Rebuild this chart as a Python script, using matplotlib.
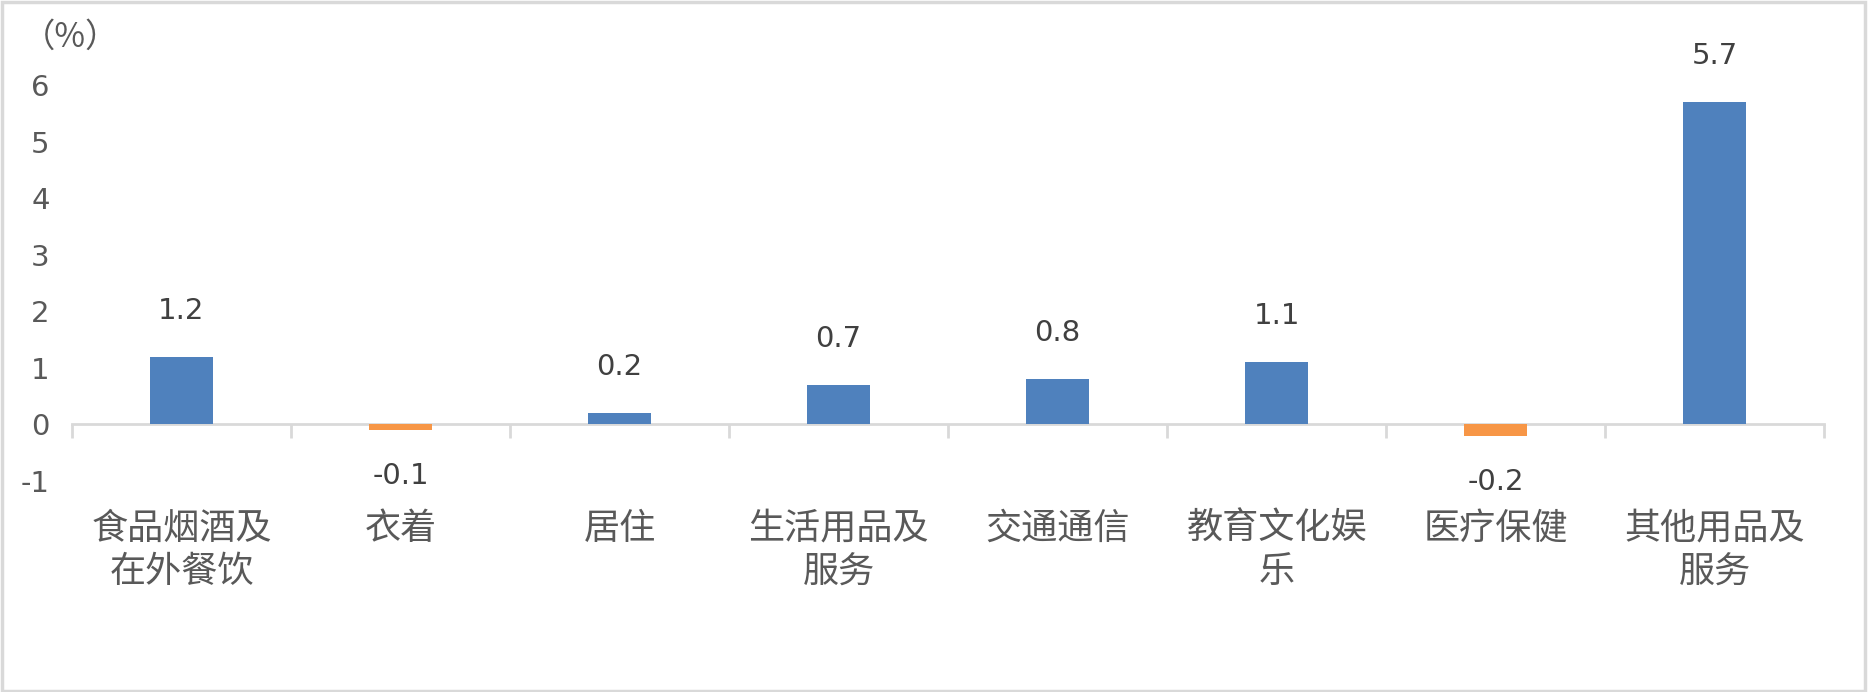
import matplotlib
matplotlib.use("Agg")
import matplotlib.pyplot as plt
import numpy as np
from matplotlib.patches import Rectangle

plt.rcParams["font.family"] = ["DejaVu Sans", "Noto Sans CJK SC"]

categories = [
    "食品烟酒及\n在外餐饮",
    "衣着",
    "居住",
    "生活用品及\n服务",
    "交通通信",
    "教育文化娱\n乐",
    "医疗保健",
    "其他用品及\n服务",
]
values = [1.2, -0.1, 0.2, 0.7, 0.8, 1.1, -0.2, 5.7]
y_ticks = [-1, 0, 1, 2, 3, 4, 5, 6]

blue = "#4F81BD"
orange = "#F79646"
grid_gray = "#D9D9D9"

fig = plt.figure(figsize=(18.69, 6.92), dpi=100)
ax = fig.add_axes([0.0385, 0.305, 0.9375, 0.572])

x = np.arange(len(values))
colors = [blue if v >= 0 else orange for v in values]
ax.bar(x, values, width=0.29, color=colors, zorder=3)

ax.set_xlim(-0.5, len(values) - 0.5)
ax.set_ylim(-1, 6)
ax.set_yticks(y_ticks)
ax.set_yticklabels([str(t) for t in y_ticks])
ax.tick_params(axis="y", length=0, pad=16, labelsize=21, labelcolor="#595959")

for s in ["left", "right", "top"]:
    ax.spines[s].set_visible(False)
ax.spines["bottom"].set_position(("data", 0))
ax.spines["bottom"].set_color(grid_gray)
ax.spines["bottom"].set_linewidth(2)
ax.spines["bottom"].set_zorder(2)

# boundary ticks below the zero line
ax.set_xticks(np.arange(len(values) + 1) - 0.5)
ax.set_xticklabels([])
ax.tick_params(axis="x", which="major", direction="out", length=10,
               width=2, color=grid_gray)
ax.set_xticks(x, minor=True)
ax.set_xticklabels(categories, minor=True, family="Noto Sans CJK SC",
                   fontsize=26, color="#595959", linespacing=1.28)
ax.tick_params(axis="x", which="minor", length=0, pad=62)

for xi, v in zip(x, values):
    off = 33 if v >= 0 else -33
    ax.annotate(f"{v:.1f}", (xi, v), xytext=(0, off), textcoords="offset points",
                ha="center", va="center", fontsize=21, color="#404040")

fig.text(22 / 1869, 1 - 37 / 692, "（%）", family=["Noto Sans CJK SC", "DejaVu Sans"],
         fontsize=24, color="#595959", ha="left", va="center")

fig.patches.append(Rectangle((0.001, 0.002), 0.997, 0.995, transform=fig.transFigure,
                             fill=False, edgecolor=grid_gray, linewidth=2.5))

fig.savefig("out.png", dpi=100)
